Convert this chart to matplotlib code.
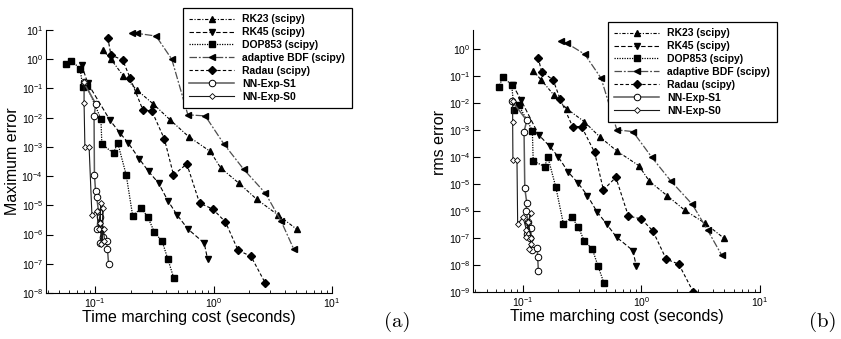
import matplotlib
matplotlib.use('Agg')
from matplotlib import pyplot as plt
from matplotlib.ticker import LogLocator, NullLocator, NullFormatter

plt.rcParams['font.family'] = ['Liberation Sans', 'DejaVu Sans']
plt.rcParams['mathtext.fontset'] = 'custom'
plt.rcParams['mathtext.rm'] = 'Liberation Sans'
plt.rcParams['mathtext.it'] = 'Liberation Sans:italic'

labels = ['RK23 (scipy)', 'RK45 (scipy)', 'DOP853 (scipy)', 'adaptive BDF (scipy)',
          'Radau (scipy)', 'NN-Exp-S1', 'NN-Exp-S0']

# ---- (a) maximum error ----
a_rk23_t = [0.116, 0.136, 0.173, 0.225, 0.311, 0.43, 0.615, 0.938, 1.15, 1.63, 2.32, 3.47, 5.06]
a_rk23_e = [2.07, 1.0, 0.27, 0.089, 0.029, 8.4e-3, 2.26e-3, 7e-4, 1.9e-4, 5.8e-5, 1.6e-5, 4.8e-6, 1.5e-6]
a_rk45_t = [0.077, 0.0867, 0.134, 0.161, 0.191, 0.237, 0.283, 0.343, 0.411, 0.49, 0.607, 0.834, 0.89]
a_rk45_e = [0.64, 0.15, 8e-3, 3.1e-3, 1.34e-3, 3.8e-4, 1.44e-4, 5.8e-5, 1.45e-5, 4.8e-6, 1.55e-6, 5.1e-7, 1.45e-7]
a_dop_t = [0.0569, 0.0627, 0.0747, 0.0787, 0.085, 0.112, 0.114, 0.143, 0.155, 0.183, 0.208,
           0.245, 0.279, 0.317, 0.368, 0.411, 0.462]
a_dop_e = [0.67, 0.9, 0.48, 0.11, 0.122, 9.1e-3, 1.24e-3, 6.1e-4, 1.4e-3, 1.1e-4, 4.2e-6,
           8.3e-6, 3.9e-6, 1.2e-6, 5.9e-7, 1.46e-7, 3.2e-8]
a_bdf_t = [0.204, 0.225, 0.327, 0.444, 0.607, 0.851, 1.22, 1.79, 2.74, 3.73, 4.75]
a_bdf_e = [7.7, 7.7, 6.2, 1.0, 0.0125, 0.0115, 1.27e-3, 1.74e-4, 2.6e-5, 2.8e-6, 3.2e-7]
a_radau_t = [0.128, 0.136, 0.171, 0.198, 0.253, 0.301, 0.385, 0.459, 0.595, 0.762, 0.987,
             1.26, 1.61, 2.07, 2.73]
a_radau_e = [5.47, 1.4, 0.94, 0.22, 0.0185, 0.017, 1.84e-3, 1.1e-4, 2.6e-4, 1.2e-5, 7.4e-6,
             2.7e-6, 2.9e-7, 1.8e-7, 2.2e-8]
a_s1_t = [0.080, 0.1013, 0.098, 0.0987, 0.101, 0.103, 0.107, 0.104, 0.110, 0.113, 0.110,
          0.117, 0.125, 0.127, 0.130]
a_s1_e = [0.16, 0.030, 0.011, 1.1e-4, 3.0e-5, 2.0e-5, 6.0e-6, 1.6e-6, 4.0e-6, 1.5e-6, 5.0e-7,
          8.0e-7, 6.2e-7, 3.3e-7, 1.0e-7]
a_s0_t = [0.0807, 0.0807, 0.082, 0.089, 0.094, 0.103, 0.108, 0.112, 0.110, 0.115, 0.117,
          0.112, 0.118, 0.120]
a_s0_e = [0.16, 0.031, 1.0e-3, 1.0e-3, 4.6e-6, 6.5e-6, 1.6e-6, 1.2e-5, 2.5e-6, 5.0e-7, 8e-6,
          4.8e-7, 1.5e-6, 6e-7]

# ---- (b) rms error ----
b_rk23_t = [0.123, 0.1435, 0.183, 0.236, 0.33, 0.445, 0.623, 0.953, 1.17, 1.66, 2.32, 3.44, 4.98]
b_rk23_e = [0.158, 0.073, 0.0204, 6.2e-3, 2.1e-3, 5.8e-4, 1.7e-4, 4.9e-5, 1.3e-5, 3.7e-6,
            1.1e-6, 3.6e-7, 1.0e-7]
b_rk45_t = [0.0826, 0.097, 0.137, 0.17, 0.199, 0.243, 0.294, 0.352, 0.423, 0.51, 0.619, 0.851, 0.905]
b_rk45_e = [0.048, 0.0133, 6.7e-4, 2.5e-4, 1.06e-4, 2.8e-5, 1.1e-5, 3.8e-6, 9.7e-7, 3.4e-7,
            1.1e-7, 3.5e-8, 9.8e-9]
b_dop_t = [0.063, 0.0683, 0.081, 0.085, 0.0927, 0.121, 0.123, 0.154, 0.163, 0.191, 0.221,
           0.259, 0.294, 0.33, 0.387, 0.431, 0.483]
b_dop_e = [0.039, 0.092, 0.048, 5.7e-3, 8.7e-3, 9.7e-4, 7.3e-5, 4.5e-5, 1.06e-4, 7.6e-6,
           3.4e-7, 6.0e-7, 2.7e-7, 8.2e-8, 4.0e-8, 9.8e-9, 2.3e-9]
b_bdf_t = [0.21, 0.236, 0.334, 0.459, 0.623, 0.85, 1.23, 1.78, 2.69, 3.62, 4.75]
b_bdf_e = [2.04, 1.67, 0.65, 0.084, 1.03e-3, 8.9e-4, 9.8e-5, 1.3e-5, 1.8e-6, 2.0e-7, 2.4e-8]
b_radau_t = [0.1355, 0.1445, 0.181, 0.207, 0.264, 0.314, 0.405, 0.48, 0.611, 0.778, 1.0,
             1.25, 1.62, 2.07, 2.75]
b_radau_e = [0.49, 0.149, 0.073, 0.0145, 1.37e-3, 1.37e-3, 1.5e-4, 6.2e-6, 1.8e-5, 6.7e-7,
             5.2e-7, 1.9e-7, 1.7e-8, 1.1e-8, 1.0e-9]
b_s1_t = [0.081, 0.1086, 0.103, 0.1045, 0.1086, 0.107, 0.112, 0.110, 0.115, 0.117, 0.120,
          0.133, 0.134, 0.136]
b_s1_e = [0.0125, 2.3e-3, 8.9e-4, 7.0e-6, 2.1e-6, 1.0e-6, 4.0e-7, 1.5e-7, 1.0e-7, 2.5e-7,
          3.7e-8, 4.4e-8, 2.1e-8, 6.3e-9]
b_s0_t = [0.0826, 0.0826, 0.083, 0.0898, 0.091, 0.101, 0.108, 0.117, 0.107, 0.112, 0.118,
          0.114, 0.119]
b_s0_e = [0.0125, 2.1e-3, 8.0e-5, 8.0e-5, 3.4e-7, 6.0e-7, 2.0e-7, 8.5e-7, 1.1e-7, 4.0e-7,
          1.0e-7, 4.0e-8, 6.0e-8]

styles = [
    dict(ls=(0, (3, 1.5, 1, 1.5)), marker='^', color='k', mfc='k', ms=4.4, lw=0.8),
    dict(ls=(0, (4, 2)), marker='v', color='k', mfc='k', ms=4.4, lw=0.8),
    dict(ls=(0, (1, 1)), marker='s', color='k', mfc='k', ms=4.4, lw=0.9),
    dict(ls=(0, (6, 1.5, 1.5, 1.5)), marker='<', color='0.3', mfc='k', mec='k', ms=4.4, lw=0.9),
    dict(ls=(0, (3, 2)), marker='D', color='k', mfc='k', ms=4.0, lw=0.8),
    dict(ls='-', marker='o', color='0.35', mfc='white', mec='k', ms=4.7, lw=1.1, mew=0.7),
    dict(ls='-', marker='D', color='0.1', mfc='white', mec='k', ms=3.0, lw=0.8, mew=0.6),
]

fig = plt.figure(figsize=(8.41, 3.39), dpi=100)
W, H = 841.0, 339.0


def panel(rect, series, ylim, ylabel, ylab_y, leg_xy, tag, tag_x):
    ax = fig.add_axes(rect)
    for (t, e), st, lab in zip(series, styles, labels):
        ax.plot(t, e, label=lab, **st)
    ax.set_xscale('log')
    ax.set_yscale('log')
    ax.set_xlim(0.0385, 10)
    ax.set_ylim(*ylim)
    ax.spines['top'].set_visible(False)
    ax.spines['right'].set_visible(False)
    ax.spines['left'].set_linewidth(0.8)
    ax.spines['bottom'].set_linewidth(0.8)
    ax.xaxis.set_major_locator(LogLocator(base=10, numticks=10))
    ax.xaxis.set_minor_locator(LogLocator(base=10, subs=range(2, 10), numticks=10))
    ax.xaxis.set_minor_formatter(NullFormatter())
    ax.yaxis.set_major_locator(LogLocator(base=10, numticks=20))
    ax.yaxis.set_minor_locator(NullLocator())
    ax.tick_params(which='major', direction='in', length=5, width=0.8, labelsize=7.5, pad=2)
    ax.tick_params(which='minor', direction='in', length=2.5, width=0.6)
    ax.set_xlabel('Time marching cost (seconds)', fontsize=11.5, labelpad=0)
    ax.set_ylabel(ylabel, fontsize=11.5)
    ax.yaxis.set_label_coords(-0.09, ylab_y)
    leg = ax.legend(loc='upper left', bbox_to_anchor=leg_xy, bbox_transform=fig.transFigure,
                    frameon=True, fancybox=False, framealpha=1, edgecolor='k',
                    prop={'weight': 'bold', 'size': 7.5}, handlelength=4.3,
                    labelspacing=0.28, borderpad=0.6, handletextpad=0.8, borderaxespad=0)
    leg.get_frame().set_linewidth(0.9)
    fig.text(tag_x / W, 1 - 322 / H, tag, fontfamily='cmr10', fontsize=15, ha='center', va='center')
    return ax


panel([46 / W, 1 - 293 / H, (332 - 46) / W, (293 - 30) / H],
      [(a_rk23_t, a_rk23_e), (a_rk45_t, a_rk45_e), (a_dop_t, a_dop_e), (a_bdf_t, a_bdf_e),
       (a_radau_t, a_radau_e), (a_s1_t, a_s1_e), (a_s0_t, a_s0_e)],
      (1e-8, 1e1), 'Maximum error', 0.5, (183 / W, 1 - 8 / H), '(a)', 397)

panel([473.3 / W, 1 - 292.3 / H, (760 - 473.3) / W, (292.3 - 30) / H],
      [(b_rk23_t, b_rk23_e), (b_rk45_t, b_rk45_e), (b_dop_t, b_dop_e), (b_bdf_t, b_bdf_e),
       (b_radau_t, b_radau_e), (b_s1_t, b_s1_e), (b_s0_t, b_s0_e)],
      (1e-9, 10 ** 0.71), 'rms error', 0.57, (608 / W, 1 - 22 / H), '(b)', 823)

fig.savefig('out.png', dpi=100)
